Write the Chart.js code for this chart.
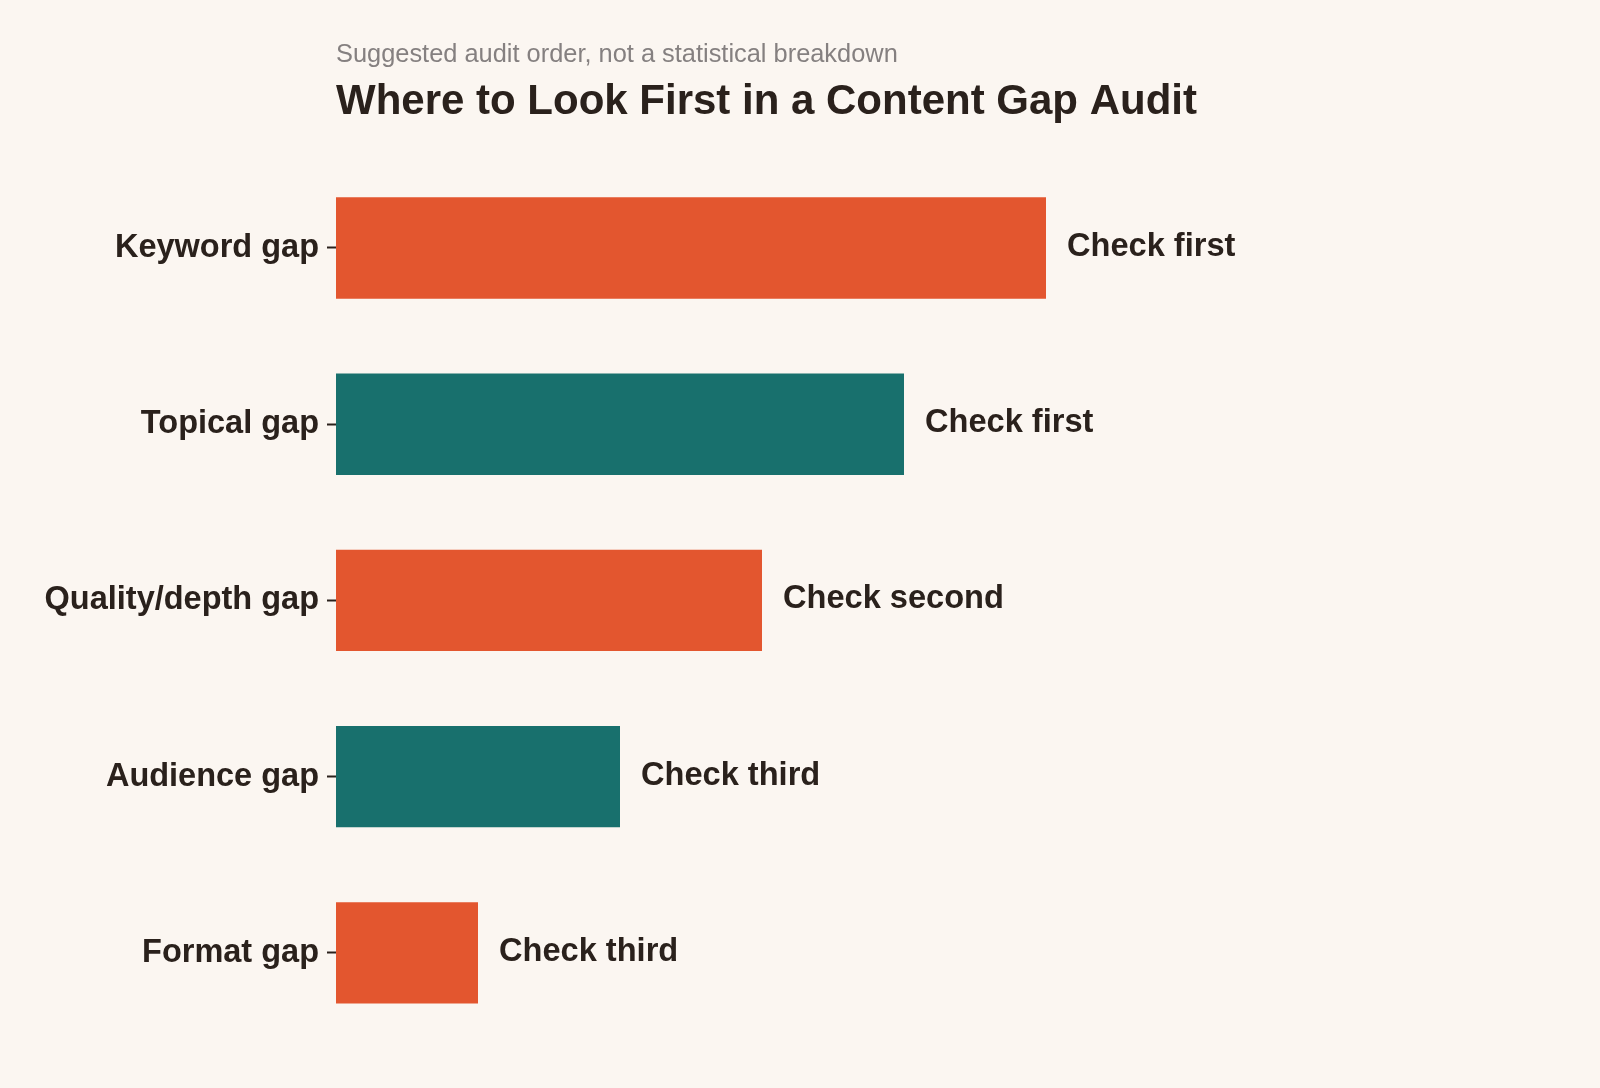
<!DOCTYPE html>
<html>
<head>
<meta charset="utf-8">
<script src="https://cdn.jsdelivr.net/npm/chart.js@4"></script>
<style>
  html, body { margin: 0; padding: 0; background: #fbf6f1; }
  #wrap { width: 1600px; height: 1088px; }
</style>
</head>
<body>
<div id="wrap"><canvas id="chart"></canvas></div>
<script>
// data
var categories = ['Keyword gap', 'Topical gap', 'Quality/depth gap', 'Audience gap', 'Format gap'];
var priority = [5, 4, 3, 2, 1];
var stepLabels = ['Check first', 'Check first', 'Check second', 'Check third', 'Check third'];
var barColors = ['#e3562f', '#18706d', '#e3562f', '#18706d', '#e3562f'];

var ink = '#2a211c';
var font = "'Liberation Sans', Arial, sans-serif";

// write the "Check ..." text after each bar
var barText = {
  id: 'barText',
  afterDatasetsDraw: function (chart) {
    var ctx = chart.ctx;
    var meta = chart.getDatasetMeta(0);
    ctx.save();
    ctx.fillStyle = ink;
    ctx.font = 'bold 32.6px ' + font;
    ctx.textAlign = 'left';
    ctx.textBaseline = 'middle';
    meta.data.forEach(function (bar, i) {
      ctx.fillText(stepLabels[i], bar.x + 21, bar.y - 1);
    });
    ctx.restore();
  }
};

var ctx = document.getElementById('chart').getContext('2d');
var chart = new Chart(ctx, {
  type: 'bar',
  data: {
    labels: categories,
    datasets: [{
      data: priority,
      backgroundColor: barColors,
      borderWidth: 0,
      barPercentage: 0.575,
      categoryPercentage: 1
    }]
  },
  options: {
    indexAxis: 'y',
    responsive: true,
    maintainAspectRatio: false,
    animation: false,
    layout: {
      padding: { top: 32, right: 128, bottom: 47, left: 0 }
    },
    scales: {
      x: {
        display: false,
        min: 0,
        max: 8
      },
      y: {
        afterFit: function (scale) { scale.width = 336; },
        border: { display: false },
        grid: {
          display: true,
          offset: false,
          drawOnChartArea: false,
          drawTicks: true,
          tickLength: 9,
          tickWidth: 2,
          tickColor: ink
        },
        ticks: {
          color: ink,
          padding: 8,
          font: { family: font, size: 32.5, weight: 'bold' }
        }
      }
    },
    plugins: {
      legend: { display: false },
      tooltip: { enabled: false },
      subtitle: {
        display: true,
        text: 'Suggested audit order, not a statistical breakdown',
        align: 'start',
        fullSize: false,
        weight: 3000,
        color: '#858080',
        font: { family: font, size: 25.4, weight: 'normal' },
        padding: { top: 8, bottom: 4 }
      },
      title: {
        display: true,
        text: 'Where to Look First in a Content Gap Audit',
        align: 'start',
        fullSize: false,
        color: ink,
        font: { family: font, size: 42, weight: 'bold' },
        padding: { top: 3, bottom: 32 }
      }
    }
  },
  plugins: [barText]
});
</script>
</body>
</html>
